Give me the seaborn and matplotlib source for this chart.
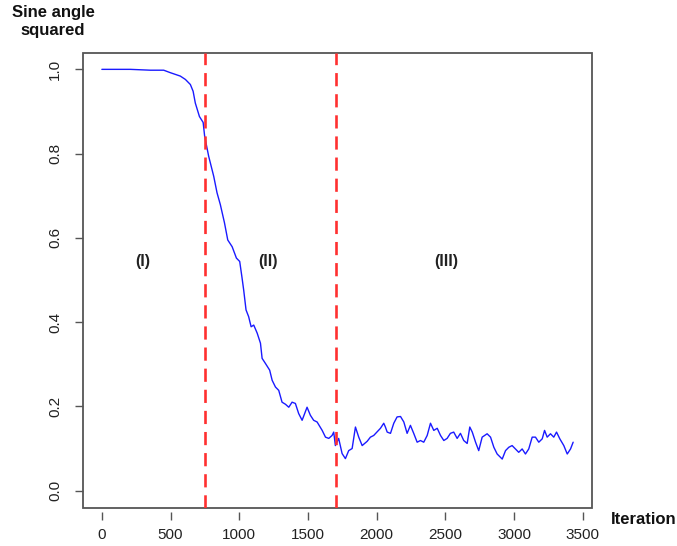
import matplotlib
matplotlib.use('Agg')
import matplotlib.pyplot as plt
from matplotlib.patches import Rectangle
import numpy as np
import pandas as pd
import seaborn as sns

# values
iteration = [0, 207, 353, 450, 499, 571, 608, 644, 664, 680, 710, 737, 748, 777, 814, 838,
             862, 892, 916, 948, 979, 1003, 1020, 1032, 1049, 1068, 1086, 1105, 1130, 1154,
             1166, 1190, 1221, 1239, 1263, 1287, 1311, 1336, 1360, 1384, 1408, 1432, 1457,
             1493, 1517, 1541, 1566, 1603, 1627, 1651, 1675, 1687, 1699, 1723, 1748, 1772,
             1796, 1821, 1845, 1869, 1894, 1930, 1954, 1978, 2027, 2051, 2063, 2076, 2100,
             2124, 2148, 2173, 2197, 2221, 2245, 2269, 2294, 2318, 2342, 2367, 2391, 2415,
             2440, 2464, 2488, 2512, 2536, 2560, 2585, 2609, 2633, 2658, 2677, 2695, 2719,
             2742, 2767, 2803, 2828, 2852, 2876, 2913, 2937, 2961, 2985, 3009, 3033, 3058,
             3082, 3106, 3131, 3155, 3179, 3204, 3221, 3240, 3264, 3288, 3308, 3332, 3361,
             3386, 3410, 3429]
sine_sq = [1.000, 1.000, 0.998, 0.998, 0.992, 0.984, 0.976, 0.964, 0.948, 0.920, 0.888,
           0.874, 0.841, 0.794, 0.746, 0.707, 0.679, 0.636, 0.595, 0.579, 0.552, 0.544,
           0.505, 0.476, 0.429, 0.413, 0.389, 0.393, 0.374, 0.350, 0.314, 0.302, 0.286,
           0.262, 0.246, 0.238, 0.210, 0.205, 0.198, 0.210, 0.207, 0.183, 0.167, 0.198,
           0.179, 0.167, 0.163, 0.143, 0.127, 0.124, 0.131, 0.139, 0.107, 0.124, 0.088,
           0.076, 0.095, 0.100, 0.151, 0.127, 0.107, 0.117, 0.127, 0.131, 0.148, 0.160,
           0.151, 0.139, 0.136, 0.160, 0.175, 0.176, 0.163, 0.136, 0.155, 0.136, 0.115,
           0.119, 0.115, 0.131, 0.160, 0.143, 0.148, 0.131, 0.119, 0.124, 0.136, 0.139,
           0.124, 0.136, 0.119, 0.112, 0.151, 0.139, 0.115, 0.095, 0.127, 0.135, 0.127,
           0.103, 0.087, 0.075, 0.095, 0.103, 0.107, 0.099, 0.091, 0.099, 0.087, 0.099,
           0.127, 0.127, 0.115, 0.123, 0.143, 0.127, 0.135, 0.127, 0.139, 0.123, 0.107,
           0.087, 0.099, 0.115]
phase_breaks = [750, 1700]
phase_labels = ['(I)', '(II)', '(III)']
phase_label_x = [300, 1210, 2505]
phase_label_y = 0.545
x_ticks = [0, 500, 1000, 1500, 2000, 2500, 3000, 3500]
y_ticks = [0.0, 0.2, 0.4, 0.6, 0.8, 1.0]

sns.set_style('white')
plt.rcParams['font.family'] = ['Liberation Sans', 'DejaVu Sans']

df = pd.DataFrame({'iteration': iteration, 'sine_sq': sine_sq})

fig = plt.figure(figsize=(6.77, 5.46), dpi=100)
ax = fig.add_axes([83 / 677, 1 - 507.5 / 546, (592 - 83) / 677, (507.5 - 52.5) / 546])

sns.lineplot(data=df, x='iteration', y='sine_sq', color='#1a1aff', linewidth=1.0,
             estimator=None, sort=False, ax=ax)
for xb in phase_breaks:
    ax.axvline(xb, color='#ff3030', linewidth=1.9, dashes=(5, 3))
for lab, lx in zip(phase_labels, phase_label_x):
    ax.text(lx, phase_label_y, lab, fontsize=11.5, fontweight='bold', color='#222222',
            ha='center', va='center')

# R-style 4% padding
xr = max(iteration) - min(iteration)
ax.set_xlim(min(iteration) - 0.04 * xr, max(iteration) + 0.04 * xr)
ax.set_ylim(-0.04, 1.04)
ax.set_xticks(x_ticks)
ax.set_yticks(y_ticks)
ax.set_xticklabels([str(t) for t in x_ticks])
ax.set_yticklabels([f'{t:.1f}' for t in y_ticks], rotation=90, va='center', ha='right')
ax.set_xlabel('')
ax.set_ylabel('')

for s in ax.spines.values():
    s.set_visible(False)
ax.spines['bottom'].set_position(('outward', 3))
ax.add_patch(Rectangle((0, 0), 1, 1, transform=ax.transAxes, fill=False,
                       edgecolor='#555555', linewidth=1.3, clip_on=False))
ax.tick_params(axis='both', which='major', direction='out', length=6, width=1.0,
               color='#555555', labelsize=11, labelcolor='#222222')
ax.tick_params(axis='x', bottom=True, pad=6)
ax.tick_params(axis='y', left=True, pad=9)

fig.text(53 / 677, 1 - 22 / 546, 'Sine angle\nsquared', fontsize=12, fontweight='bold',
         ha='center', va='center', linespacing=1.25, color='#111111')
fig.text(644 / 677, 1 - 520 / 546, 'Iteration', fontsize=12, fontweight='bold',
         ha='center', va='center', color='#111111')

fig.savefig('out.png', dpi=100)
